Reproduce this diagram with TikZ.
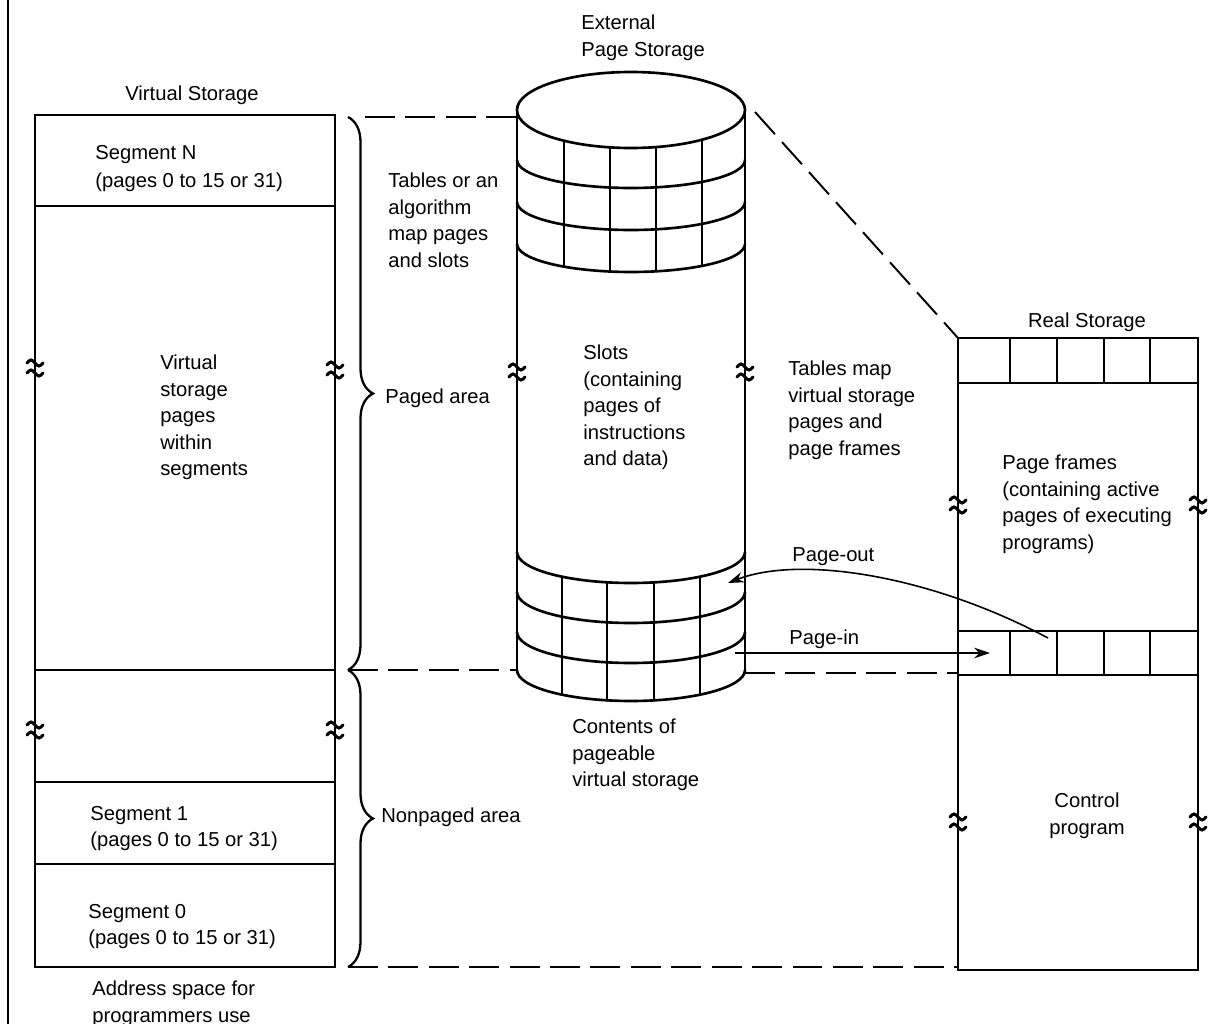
\documentclass[tikz,border=0pt]{standalone}
\usepackage{fontspec}
\setmainfont{Liberation Sans}
\usetikzlibrary{arrows.meta, decorations.pathreplacing, positioning, calc}

\begin{document}
\begin{tikzpicture}[
  x=0.02cm, y=-0.02cm,
  box/.style={line width=1.5pt},
  sep/.style={line width=1pt},
  lbl/.style={inner sep=0pt, align=left, anchor=north west,
              font=\fontsize{11.5}{15}\selectfont},
  ttl/.style={inner sep=0pt, anchor=north,
              font=\fontsize{11.5}{15}\selectfont},
  brkln/.style={line width=1.7pt, line cap=round},
  dsh/.style={line width=1.1pt, dash pattern=on 17pt off 6pt},
  brc/.style={decorate, decoration={brace, amplitude=0.5cm}, line width=1.3pt},
  arr/.style={-{Stealth[length=9pt, width=6pt]}, line width=0.9pt}
]
\useasboundingbox (0,0) rectangle (1211,1024);

%% ---- Left margin rule ----
\coordinate (ruleT) at (8,0);
\coordinate (ruleB) at (8,1024);
\draw[box] (ruleT) -- (ruleB);

%% ---- Virtual storage ----
\coordinate (vsNW) at (35,115);
\coordinate (vsSE) at (335,967);
\draw[box] (vsNW) rectangle (vsSE);
\foreach \y in {206,670,782,864}
  \draw[sep] (35,\y) -- (335,\y);

\node[ttl] (vsttl)   at (192,86)  {Virtual Storage};
\node[lbl] (segN)    at (95,145)  {Segment N\\[1pt](pages 0 to 15 or 31)};
\node[lbl] (vspages) at (160,355) {Virtual\\storage\\pages\\within\\segments};
\node[lbl] (seg1)    at (90,806)  {Segment 1\\(pages 0 to 15 or 31)};
\node[lbl] (seg0)    at (88,904)  {Segment 0\\(pages 0 to 15 or 31)};
\node[lbl] (addr)    at (92,981)  {Address space for\\programmers use};

%% ---- Braces ----
\coordinate (pgTop) at (348,117);
\coordinate (pgMid) at (348,670);
\coordinate (pgBot) at (348,967);
\draw[brc] (pgTop) -- (pgMid);
\draw[brc] (pgMid) -- (pgBot);
\node[lbl, anchor=west] (paged)    at (385,398) {Paged area};
\node[lbl, anchor=west] (nonpaged) at (381,817) {Nonpaged area};
\node[lbl] (tblslots) at (388,173) {Tables or an\\algorithm\\map pages\\and slots};

%% ---- External page storage (cylinder) ----
\coordinate (cylTL) at (517,110);
\coordinate (cylTR) at (745,110);
\coordinate (cylBL) at (517,670);
\coordinate (cylBR) at (745,670);
\draw[box] (631,110) ellipse [x radius=114, y radius=38];
\draw[box] (cylTL) -- (cylBL);
\draw[box] (cylTR) -- (cylBR);
\foreach \c in {160,202,244}
  \draw[box] (517,\c) arc[start angle=180, end angle=0, x radius=114, y radius=28];
\foreach \c in {552,592,632,670}
  \draw[box] (517,\c) arc[start angle=180, end angle=0, x radius=114, y radius=31];
\begin{scope}
  \clip (517,110) arc[start angle=180, end angle=0, x radius=114, y radius=38]
    -- (745,244) arc[start angle=0, end angle=180, x radius=114, y radius=28] -- cycle;
  \foreach \x in {564,610,656,702}
    \draw[box] (\x,100) -- (\x,300);
\end{scope}
\begin{scope}
  \clip (517,552) arc[start angle=180, end angle=0, x radius=114, y radius=31]
    -- (745,670) arc[start angle=0, end angle=180, x radius=114, y radius=32] -- cycle;
  \foreach \x in {562,607,654,700}
    \draw[box] (\x,540) -- (\x,720);
\end{scope}

\node[lbl] (eps)      at (581,15)  {External\\Page Storage};
\node[lbl] (slots)    at (583,345) {Slots\\(containing\\pages of\\instructions\\and data)};
\node[lbl] (contents) at (572,719) {Contents of\\pageable\\virtual storage};
\node[lbl] (tblmap)   at (788,361) {Tables map\\virtual storage\\pages and\\page frames};

%% ---- Real storage ----
\coordinate (rsNW) at (958,338);
\coordinate (rsSE) at (1198,970);
\draw[box] (rsNW) rectangle (rsSE);
\draw[sep] (958,383) -- (1198,383);
\draw[sep] (958,631) -- (1198,631);
\draw[sep] (958,675) -- (1198,675);
\foreach \x in {1010,1057,1104,1150} {
  \draw[sep] (\x,338) -- (\x,383);
  \draw[sep] (\x,631) -- (\x,675);
}

\node[ttl] (rsttl)  at (1087,313) {Real Storage};
\node[lbl] (frames) at (1002,455) {Page frames\\(containing active\\pages of executing\\programs)};
\node[lbl, align=center, anchor=north] (ctrl) at (1087,793) {Control\\program};

%% ---- Break marks ----
\foreach \x/\y in {35/368, 335/370, 35/730, 335/730, 517/372, 745/372,
                   958/505, 1198/505, 958/822, 1198/822} {
  \draw[brkln] (\x-8,\y-5) sin (\x-4,\y-8) cos (\x,\y-5) sin (\x+4,\y-2) cos (\x+8,\y-5);
  \draw[brkln] (\x-8,\y+5) sin (\x-4,\y+2) cos (\x,\y+5) sin (\x+4,\y+8) cos (\x+8,\y+5);
}

%% ---- Dashed mapping lines ----
\coordinate (dTopL) at (365,117);
\coordinate (dTopR) at (517,117);
\coordinate (dCylTR) at (755,112);
\coordinate (dCylBR) at (745,673);
\coordinate (rsMidL) at (958,673);
\coordinate (rsSW) at (958,967);
\draw[dsh] (dTopL) -- (dTopR);
\draw[dsh] (pgMid) -- (cylBL);
\draw[dsh] (dCylTR) -- (rsNW);
\draw[dsh] (dCylBR) -- (rsMidL);
\draw[dsh] (pgBot) -- (rsSW);

%% ---- Page-out / Page-in ----
\coordinate (outA) at (1048,638);
\coordinate (outB) at (728,583);
\coordinate (inA) at (735,653);
\coordinate (inB) at (990,653);
\draw[arr] (outA) .. controls (930,575) and (800,555) .. (outB);
\draw[arr] (inA) -- (inB);
\node[lbl] (pout) at (792,547) {Page-out};
\node[lbl] (pin)  at (789,630) {Page-in};

\end{tikzpicture}
\end{document}
